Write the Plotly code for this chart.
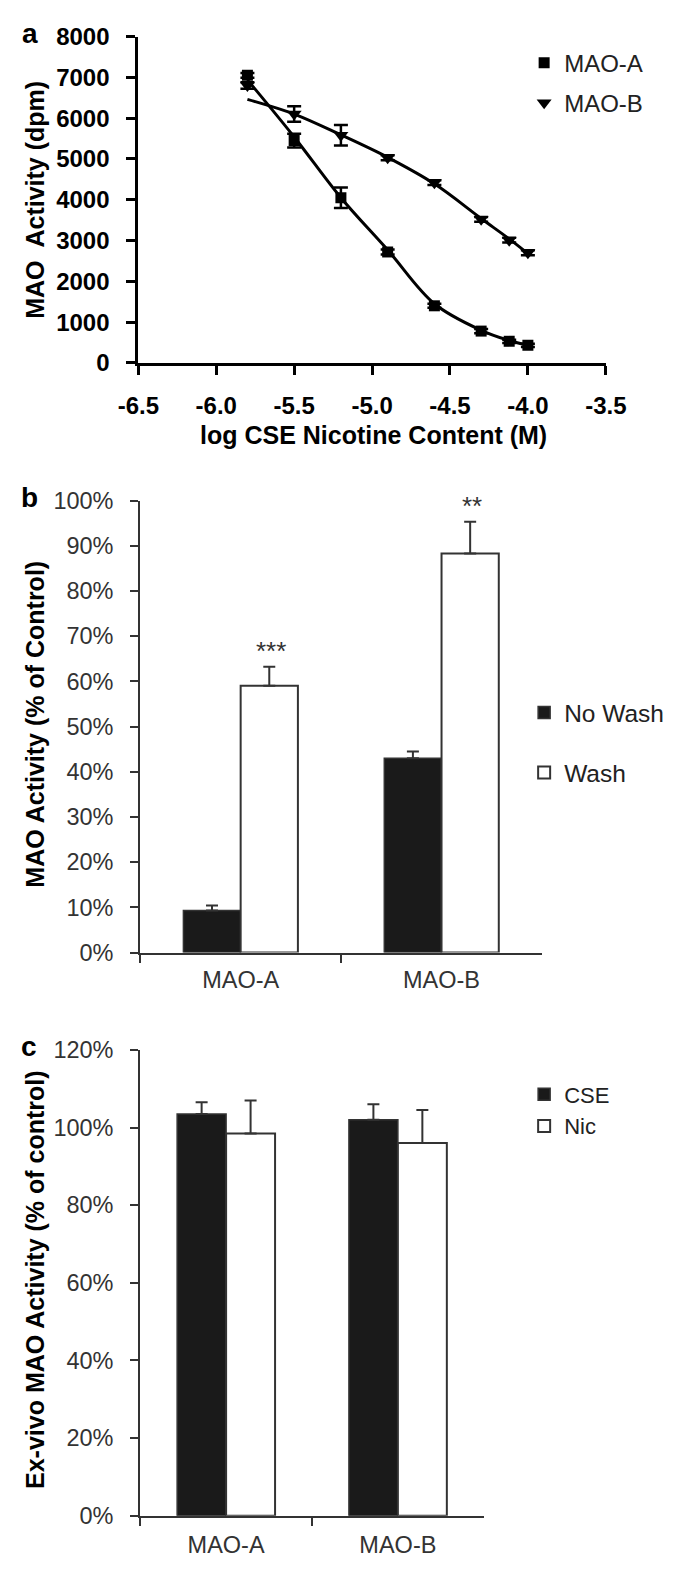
import plotly.graph_objects as go

# ---------------- data ----------------
# Panel a
log_conc = [-5.80, -5.50, -5.20, -4.90, -4.60, -4.30, -4.12, -4.00]
maoa_dpm = [7050, 5450, 4050, 2720, 1400, 780, 530, 430]
maoa_err = [60, 170, 250, 60, 50, 50, 40, 40]
maob_dpm = [6800, 6100, 5580, 5030, 4420, 3520, 3010, 2700]
maob_err = [80, 190, 250, 60, 60, 60, 60, 60]
maoa_fit = [6940, 5540, 4050, 2770, 1450, 800, 550, 430]
maob_fit = [6460, 6100, 5590, 5040, 4390, 3540, 3040, 2680]
xa_ticks = [-6.5, -6.0, -5.5, -5.0, -4.5, -4.0, -3.5]
xa_ticktext = ["-6.5", "-6.0", "-5.5", "-5.0", "-4.5", "-4.0", "-3.5"]

# Panel b
enzymes = ["MAO-A", "MAO-B"]
nowash = [9.3, 43.0]
nowash_err = [1.1, 1.5]
wash = [59.0, 88.3]
wash_err = [4.2, 7.0]
wash_sig = ["***", "**"]

# Panel c
cse = [103.5, 102.0]
cse_err = [3.0, 4.0]
nic = [98.5, 96.0]
nic_err = [8.5, 8.5]

W, H = 685, 1573
FONT = "Liberation Sans, Arial, Helvetica, sans-serif"


def px_x(p):
    return p / W


def px_y(p):
    return 1 - p / H


fig = go.Figure()

# ---- panel a ----
fig.add_trace(go.Scatter(x=log_conc, y=maoa_fit, mode="lines", line=dict(color="black", width=3, shape="spline"),
                         showlegend=False, xaxis="x", yaxis="y", hoverinfo="skip"))
fig.add_trace(go.Scatter(x=log_conc, y=maob_fit, mode="lines", line=dict(color="black", width=3, shape="spline"),
                         showlegend=False, xaxis="x", yaxis="y", hoverinfo="skip"))
fig.add_trace(go.Scatter(x=log_conc, y=maoa_dpm, mode="markers", name="MAO-A", legendgroup="a1", legend="legend",
                         marker=dict(symbol="square", size=11, color="black"),
                         error_y=dict(type="data", array=maoa_err, color="black", thickness=2.5, width=7),
                         xaxis="x", yaxis="y"))
fig.add_trace(go.Scatter(x=log_conc, y=maob_dpm, mode="markers", name="MAO-B", legendgroup="a2", legend="legend",
                         marker=dict(symbol="triangle-down", size=13, color="black"),
                         error_y=dict(type="data", array=maob_err, color="black", thickness=2.5, width=7),
                         xaxis="x", yaxis="y"))

# ---- panel b ----
fig.add_trace(go.Bar(x=enzymes, y=nowash, name="No Wash", legendgroup="b1", legend="legend2",
                     marker=dict(color="#1a1a1a", line=dict(color="#333333", width=1.5)),
                     error_y=dict(type="data", array=nowash_err, arrayminus=[0, 0], symmetric=False,
                                  color="#333333", thickness=2, width=6),
                     xaxis="x2", yaxis="y2"))
fig.add_trace(go.Bar(x=enzymes, y=wash, name="Wash", legendgroup="b2", legend="legend2",
                     marker=dict(color="white", line=dict(color="#333333", width=2)),
                     error_y=dict(type="data", array=wash_err, arrayminus=[0, 0], symmetric=False,
                                  color="#333333", thickness=2, width=6),
                     xaxis="x2", yaxis="y2"))

# ---- panel c ----
fig.add_trace(go.Bar(x=enzymes, y=cse, name="CSE", legendgroup="c1", legend="legend3",
                     marker=dict(color="#1a1a1a", line=dict(color="#333333", width=1.5)),
                     error_y=dict(type="data", array=cse_err, arrayminus=[0, 0], symmetric=False,
                                  color="#333333", thickness=2, width=6),
                     xaxis="x3", yaxis="y3"))
fig.add_trace(go.Bar(x=enzymes, y=nic, name="Nic", legendgroup="c2", legend="legend3",
                     marker=dict(color="white", line=dict(color="#333333", width=2)),
                     error_y=dict(type="data", array=nic_err, arrayminus=[0, 0], symmetric=False,
                                  color="#333333", thickness=2, width=6),
                     xaxis="x3", yaxis="y3"))

bold_tick = dict(family=FONT, size=24, color="black", weight="bold")
reg_tick = dict(family=FONT, size=23.5, color="#333333")

axis_a = dict(showline=True, linecolor="black", linewidth=3, ticks="outside", ticklen=9, tickwidth=3,
              tickcolor="black", showgrid=False, zeroline=False, tickfont=bold_tick)
axis_bc = dict(showline=True, linecolor="#333333", linewidth=2, ticks="outside", ticklen=8, tickwidth=2,
               tickcolor="#333333", showgrid=False, zeroline=False, tickfont=reg_tick)

fig.update_layout(
    width=W, height=H, margin=dict(l=0, r=0, t=0, b=0),
    paper_bgcolor="white", plot_bgcolor="white",
    font=dict(family=FONT, color="black"),
    barmode="group", bargap=0.43, bargroupgap=0,
    xaxis=dict(domain=[px_x(125), px_x(623)], anchor="y", range=[-6.5, -3.5], tickvals=xa_ticks,
               ticktext=xa_ticktext, ticklabelstandoff=10, **axis_a),
    yaxis=dict(domain=[px_y(355), px_y(23)], anchor="x", range=[0, 8000], dtick=1000,
               ticklabelstandoff=12, **axis_a),
    xaxis2=dict(domain=[px_x(127), px_x(555)], anchor="y2", type="category", tickson="boundaries",
                ticklabelstandoff=5, **axis_bc),
    yaxis2=dict(domain=[px_y(955), px_y(495)], anchor="x2", range=[0, 100], dtick=10, ticksuffix="%",
                ticklabelstandoff=12, **axis_bc),
    xaxis3=dict(domain=[px_x(127), px_x(493)], anchor="y3", type="category", tickson="boundaries",
                ticklabelstandoff=7, **axis_bc),
    yaxis3=dict(domain=[px_y(1528), px_y(1054)], anchor="x3", range=[0, 120], dtick=20, ticksuffix="%",
                ticklabelstandoff=12, **axis_bc),
    legend=dict(x=px_x(536), y=px_y(27), xanchor="left", yanchor="top", bgcolor="rgba(0,0,0,0)",
                font=dict(family=FONT, size=24, color="#222222"), tracegroupgap=6, itemwidth=30),
    legend2=dict(x=px_x(536), y=px_y(688), xanchor="left", yanchor="top", bgcolor="rgba(0,0,0,0)",
                 font=dict(family=FONT, size=24.5, color="#222222"), tracegroupgap=25, itemwidth=30),
    legend3=dict(x=px_x(536), y=px_y(1078), xanchor="left", yanchor="top", bgcolor="rgba(0,0,0,0)",
                 font=dict(family=FONT, size=22, color="#222222"), tracegroupgap=0, itemwidth=30),
)

annotations = []
# significance stars over the Wash bars
for cat, val, err, sig in zip(enzymes, wash, wash_err, wash_sig):
    annotations.append(dict(x=cat, y=val + err, xref="x2", yref="y2", text=sig, showarrow=False,
                            xshift=30, yshift=-1, yanchor="bottom", xanchor="center",
                            font=dict(family=FONT, size=26, color="#333333")))
# axis titles
title_common = dict(xref="paper", yref="paper", showarrow=False, xanchor="center", yanchor="middle")
annotations.append(dict(x=px_x(15), y=px_y(189), text="MAO\u00a0 Activity (dpm)", textangle=-90,
                        font=dict(family=FONT, size=25, color="black", weight="bold"), **title_common))
annotations.append(dict(x=px_x(375), y=px_y(428), text="log CSE Nicotine Content (M)",
                        font=dict(family=FONT, size=25, color="black", weight="bold"), **title_common))
annotations.append(dict(x=px_x(15), y=px_y(723), text="MAO Activity (% of Control)", textangle=-90,
                        font=dict(family=FONT, size=25, color="black", weight="bold"), **title_common))
annotations.append(dict(x=px_x(15), y=px_y(1288), text="Ex-vivo MAO Activity (% of control)", textangle=-90,
                        font=dict(family=FONT, size=25, color="black", weight="bold"), **title_common))
# panel letters
for letter, xx, yy in [("a", 10, 20), ("b", 9, 492), ("c", 8, 1051)]:
    annotations.append(dict(x=px_x(xx), y=px_y(yy), text=letter,
                            font=dict(family=FONT, size=28, color="black", weight="bold"), **title_common))
fig.update_layout(annotations=annotations)

fig.write_html("out.html", config={"displayModeBar": False},
               post_script="document.body.style.margin='0';document.body.style.overflow='hidden';")
